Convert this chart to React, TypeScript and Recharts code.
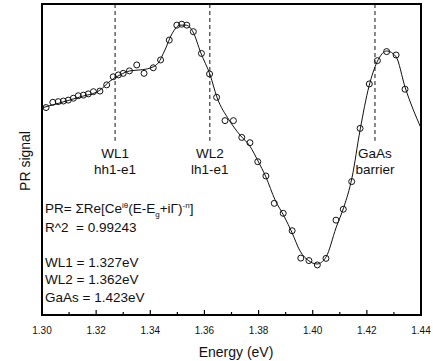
import React from 'react';
import {
  ComposedChart, Line, Scatter, XAxis, YAxis, ReferenceLine, ReferenceArea,
} from 'recharts';

// measured PR points (energy in eV, signal in arbitrary units)
const pointEnergy = [
  1.3015, 1.3040, 1.3060, 1.3079, 1.3097, 1.3116, 1.3134, 1.3153, 1.3171, 1.3190,
  1.3214, 1.3239, 1.3263, 1.3282, 1.3300, 1.3323, 1.3350, 1.3377, 1.3411, 1.3438,
  1.3470, 1.3498, 1.3516, 1.3535, 1.3559, 1.3589, 1.3619, 1.3645, 1.3676, 1.3707,
  1.3738, 1.3768, 1.3797, 1.3827, 1.3858, 1.3891, 1.3924, 1.3956, 1.3986, 1.4017,
  1.4049, 1.4086, 1.4113, 1.4144, 1.4175, 1.4209, 1.4239, 1.4273, 1.4308, 1.4341,
];
const pointSignal = [
  66.7, 68.4, 68.6, 68.8, 69.1, 69.7, 70.5, 70.7, 71.1, 71.8,
  72.0, 74.0, 76.6, 77.2, 77.7, 78.5, 80.4, 77.7, 79.5, 82.0,
  88.4, 93.2, 93.5, 93.2, 91.1, 84.1, 77.5, 70.0, 62.5, 62.5,
  57.1, 55.4, 49.3, 44.7, 35.9, 32.7, 27.1, 18.3, 17.5, 16.1,
  18.2, 30.5, 34.0, 42.9, 60.0, 74.3, 81.8, 84.7, 83.6, 72.6,
];

// fitted curve
const fitEnergy = [
  1.3000, 1.3066, 1.3140, 1.3214, 1.3251, 1.3288, 1.3325, 1.3362, 1.3399, 1.3429,
  1.3454, 1.3480, 1.3510, 1.3532, 1.3558, 1.3587, 1.3621, 1.3646, 1.3691, 1.3731,
  1.3768, 1.3798, 1.3827, 1.3861, 1.3894, 1.3924, 1.3953, 1.3986, 1.4016, 1.4049,
  1.4086, 1.4115, 1.4145, 1.4175, 1.4208, 1.4238, 1.4274, 1.4308, 1.4341, 1.4400,
];
const fitSignal = [
  66.6, 68.2, 70.1, 72.3, 75.2, 77.2, 78.5, 78.8, 79.4, 81.0,
  85.2, 90.4, 93.2, 93.2, 91.0, 84.2, 77.2, 70.1, 62.7, 57.9,
  54.3, 49.5, 44.4, 37.0, 31.8, 26.4, 20.6, 17.4, 16.4, 18.6,
  28.0, 34.7, 44.1, 59.5, 73.6, 81.4, 84.9, 83.0, 73.3, 60.1,
];

const transitions = [
  { e: 1.327, name: 'WL1', sub: 'hh1-e1' },
  { e: 1.362, name: 'WL2', sub: 'lh1-e1' },
  { e: 1.423, name: 'GaAs', sub: 'barrier' },
];

const xTicks = [1.30, 1.31, 1.32, 1.33, 1.34, 1.35, 1.36, 1.37, 1.38, 1.39, 1.40, 1.41, 1.42, 1.43, 1.44];

const points = pointEnergy.map((e, i) => ({ e, v: pointSignal[i] }));
const fit = fitEnergy.map((e, i) => ({ e, v: fitSignal[i] }));

const FONT = '"Liberation Sans", Arial, sans-serif';

const XTick = (props: any) => {
  const { x, y, payload } = props;
  const major = Math.round(payload.value * 100) % 2 === 0;
  return (
    <g>
      <line x1={x} x2={x} y1={y} y2={y - (major ? 5 : 3)} stroke="#000" strokeWidth={1.2} />
      {major && (
        <text x={x} y={y + 19} textAnchor="middle" fontFamily={FONT} fontSize={10} fill="#111">
          {payload.value.toFixed(2)}
        </text>
      )}
    </g>
  );
};

const Circle = (props: any) => {
  const { cx, cy } = props;
  if (cx == null || cy == null) return null;
  return <circle cx={cx} cy={cy} r={3} fill="none" stroke="#111" strokeWidth={1} />;
};

const transLabel = (name: string, sub: string) => (p: any) => {
  const vb = p.viewBox || {};
  const x = vb.x ?? 0;
  const bottom = Math.max(vb.y ?? 0, (vb.y ?? 0) + (vb.height ?? 0));
  return (
    <g fontFamily={FONT} fontSize={13.5} fill="#111" textAnchor="middle">
      <text x={x} y={bottom + 17}>{name}</text>
      <text x={x} y={bottom + 33}>{sub}</text>
    </g>
  );
};

export default function App() {
  return (
    <div style={{ position: 'absolute', left: 0, top: 0, width: 433, height: 361, background: '#fff' }}>
      <ComposedChart width={433} height={361} margin={{ top: 4, right: 12, bottom: 16, left: 42 }}>
        <XAxis
          type="number"
          dataKey="e"
          domain={[1.30, 1.44]}
          ticks={xTicks}
          interval={0}
          height={30}
          axisLine={false}
          tickLine={false}
          tickSize={0}
          tickMargin={0}
          tick={XTick}
          allowDataOverflow
        />
        <YAxis type="number" dataKey="v" domain={[0, 100]} hide width={0} />
        <Line
          data={fit}
          dataKey="v"
          type="monotone"
          stroke="#111"
          strokeWidth={1}
          dot={false}
          isAnimationActive={false}
        />
        <Scatter data={points} dataKey="v" shape={<Circle />} isAnimationActive={false} />
        {transitions.map((t) => (
          <ReferenceLine
            key={t.name}
            segment={[{ x: t.e, y: 100 }, { x: t.e, y: 56 }]}
            stroke="#111"
            strokeDasharray="4 3"
            strokeWidth={1}
            label={transLabel(t.name, t.sub)}
          />
        ))}
        <ReferenceArea x1={1.30} x2={1.44} y1={0} y2={100} fill="none" stroke="#000" strokeWidth={2} ifOverflow="visible" />
      </ComposedChart>
      <svg width={433} height={361} style={{ position: 'absolute', left: 0, top: 0, pointerEvents: 'none' }}>
        <g fontFamily={FONT} fontSize={13.5} fill="#111">
          <text x={45} y={213}>
            PR= ΣRe[Ce<tspan dy={-5} fontSize={8}>iθ</tspan>
            <tspan dy={5}>(E-E</tspan>
            <tspan dy={4} fontSize={8}>g</tspan>
            <tspan dy={-4}>+iΓ)</tspan>
            <tspan dy={-5} fontSize={8}>-n</tspan>
            <tspan dy={5}>]</tspan>
          </text>
          <text x={45} y={232}>R^2</text>
          <text x={76} y={232}>=  0.99243</text>
          <text x={45} y={267}>WL1 = 1.327eV</text>
          <text x={45} y={284}>WL2 = 1.362eV</text>
          <text x={45} y={302}>GaAs = 1.423eV</text>
        </g>
        <text x={236} y={357} textAnchor="middle" fontFamily={FONT} fontSize={14} fill="#111">Energy (eV)</text>
        <text
          x={0}
          y={0}
          transform="translate(30,161) rotate(-90)"
          textAnchor="middle"
          fontFamily={FONT}
          fontSize={14}
          fill="#111"
        >
          PR signal
        </text>
      </svg>
    </div>
  );
}
